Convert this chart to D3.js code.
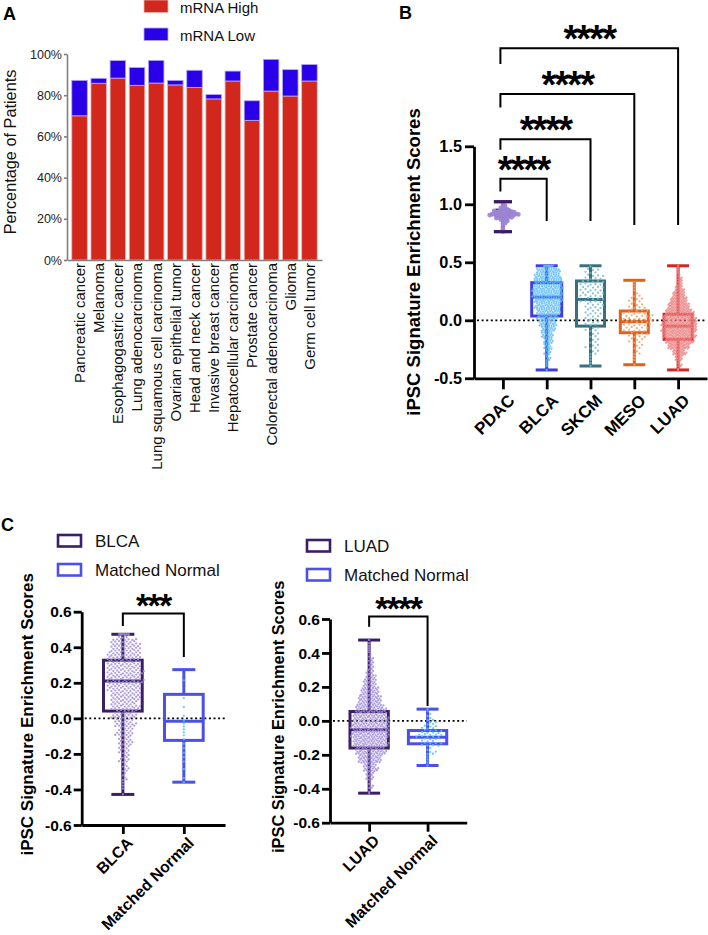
<!DOCTYPE html>
<html>
<head>
<meta charset="utf-8">
<script src="https://cdn.jsdelivr.net/npm/d3@7"></script>
<style>
  body { margin: 0; background: #fff; }
  svg { display: block; }
  svg text { font-family: "Liberation Sans", Arial, Helvetica, sans-serif; }
</style>
</head>
<body>
<svg id="fig" width="708" height="935"></svg>
<script>
// ---- panel A data ----
const cancerTypes = ['Pancreatic cancer', 'Melanoma', 'Esophagogastric cancer', 'Lung adenocarcinoma',
  'Lung squamous cell carcinoma', 'Ovarian epithelial tumor', 'Head and neck cancer',
  'Invasive breast cancer', 'Hepatocellular carcinoma', 'Prostate cancer',
  'Colorectal adenocarcinoma', 'Glioma', 'Germ cell tumor'];
const mrnaHigh = [70, 85.8, 88.3, 84.8, 85.9, 85, 83.8, 78.2, 86.9, 67.8, 82, 79.6, 86.9];
const mrnaLow = [17.2, 2.4, 8.5, 8.6, 11, 2.2, 8.3, 2.1, 4.8, 9.5, 15.4, 12.8, 8];
const pctTicks = [0, 20, 40, 60, 80, 100];

// ---- panel B data ----
const groupsB = ['PDAC', 'BLCA', 'SKCM', 'MESO', 'LUAD'];
// [min, q1, median, q3, max]
const statsB = [
  [0.764, 0.90, 0.93, 0.95, 1.022],
  [-0.428, 0.037, 0.20, 0.324, 0.47],
  [-0.394, -0.05, 0.18, 0.339, 0.47],
  [-0.383, -0.107, -0.012, 0.08, 0.345],
  [-0.428, -0.164, -0.05, 0.052, 0.47]
];
// dot counts per score bin (bin start, bin width)
const binStartB = [0.75, -0.45, -0.40, -0.40, -0.45];
const binWidthB = [0.025, 0.05, 0.05, 0.05, 0.05];
const countsPDAC = [1, 1, 1, 2, 4, 8, 14, 10, 4, 2, 1];
const countsBLCA = [1, 3, 5, 7, 10, 12, 15, 18, 22, 26, 30, 32, 36, 38, 38, 36, 34, 30, 12];
const countsSKCM = [2, 2, 4, 5, 4, 4, 5, 6, 6, 7, 8, 9, 10, 10, 10, 8, 6, 1];
const countsMESO = [1, 2, 3, 4, 6, 8, 10, 12, 12, 9, 7, 6, 3, 2, 2];
const countsLUAD = [2, 6, 12, 22, 36, 46, 54, 58, 58, 54, 46, 36, 28, 20, 14, 8, 6, 4, 2];
const yTicksB = [-0.5, 0, 0.5, 1, 1.5];
const sigB = ['****', '****', '****', '****'];
const bracketTopB = [1.22, 1.56, 1.95, 2.345];
const bracketLeftEndB = [1.11, 1.47, 1.835, 2.21];
const bracketRightEndB = [0.856, 0.856, 0.822, 0.822];

// ---- panel C data ----
const groupsC1 = ['BLCA', 'Matched Normal'];
const statsC1 = [[-0.428, 0.041, 0.21, 0.327, 0.473], [-0.359, -0.124, -0.017, 0.135, 0.274]];
const countsC1Normal = [1, 1, 1, 2, 2, 2, 3, 3, 1, 1, 1, 0, 1];
const groupsC2 = ['LUAD', 'Matched Normal'];
const statsC2 = [[-0.426, -0.16, -0.053, 0.055, 0.476], [-0.263, -0.135, -0.096, -0.057, 0.069]];
const countsC2Normal = [1, 3, 6, 14, 18, 10, 5, 2];
const yTicksC = [-0.6, -0.4, -0.2, 0, 0.2, 0.4, 0.6];

const FONT = '"Liberation Sans", Arial, Helvetica, sans-serif';
const svg = d3.select('#fig');

// layout of a beeswarm from binned counts
function swarm(counts, start, width, stats, rows, dx) {
  const pts = [];
  counts.forEach((n, b) => {
    if (!n) return;
    const lo = start + b * width;
    const r = Math.min(rows, n);
    const nCols = Math.ceil(n / r);
    for (let i = 0; i < n; i++) {
      const row = i % r;
      const col = Math.floor(i / r);
      let v = lo + (row + 0.5 + ((col % 3) - 1) * 0.22) / r * width;
      v = Math.max(stats[0], Math.min(stats[4], v));
      const side = col % 2 ? 1 : -1;
      let off = side * Math.ceil(col / 2) * dx;
      if (row % 2) off += dx / 2;
      if (nCols === 1) off = 0;
      pts.push({ v: v, off: off });
    }
  });
  return pts;
}

function drawBox(g, cx, y, s, color, boxW, capW, lw) {
  g.append('line').attr('x1', cx).attr('x2', cx).attr('y1', y(s[0])).attr('y2', y(s[1]))
    .attr('stroke', color).attr('stroke-width', lw);
  g.append('line').attr('x1', cx).attr('x2', cx).attr('y1', y(s[3])).attr('y2', y(s[4]))
    .attr('stroke', color).attr('stroke-width', lw);
  [s[0], s[4]].forEach(v => {
    g.append('line').attr('x1', cx - capW / 2).attr('x2', cx + capW / 2).attr('y1', y(v)).attr('y2', y(v))
      .attr('stroke', color).attr('stroke-width', lw);
  });
  g.append('rect').attr('x', cx - boxW / 2).attr('width', boxW)
    .attr('y', y(s[3])).attr('height', y(s[1]) - y(s[3]))
    .attr('fill', 'none').attr('stroke', color).attr('stroke-width', lw);
  g.append('line').attr('x1', cx - boxW / 2).attr('x2', cx + boxW / 2).attr('y1', y(s[2])).attr('y2', y(s[2]))
    .attr('stroke', color).attr('stroke-width', lw);
}

function drawDots(g, cx, y, pts, color, r, op) {
  g.selectAll(null).data(pts).join('circle')
    .attr('cx', d => cx + d.off)
    .attr('cy', d => y(d.v))
    .attr('r', r)
    .attr('fill', color)
    .attr('opacity', op || 0.85);
}

function txt(sel, size, weight) {
  return sel.attr('font-family', FONT).attr('font-size', size).attr('font-weight', weight || 'normal');
}

function stars(g, x, yLine, label, size) {
  txt(g.append('text'), size, 'bold')
    .attr('x', x).attr('y', yLine + 0.1 * size)
    .attr('text-anchor', 'middle')
    .attr('letter-spacing', -0.05 * size)
    .text(label);
}

function bracket(g, x1, x2, yTop, yLeft, yRight) {
  g.append('path')
    .attr('d', 'M' + x1 + ',' + yLeft + 'V' + yTop + 'H' + x2 + 'V' + yRight)
    .attr('fill', 'none').attr('stroke', '#000').attr('stroke-width', 2);
}

// axis lines from d3, labels drawn as plain text from the same scales
function axisLines(ax, color, width) {
  ax.selectAll('text').remove();
  ax.selectAll('path, line').attr('stroke', color).attr('stroke-width', width);
}

// panel letters
[['A', 3, 20], ['B', 399, 19], ['C', 1, 531]].forEach(d => {
  txt(svg.append('text'), 18, 'bold').attr('x', d[1]).attr('y', d[2]).text(d[0]);
});

// ================= panel A =================
const gA = svg.append('g');
const xA = d3.scaleBand().domain(cancerTypes).range([67, 322]).paddingInner(0.19).paddingOuter(0.25);
const yA = d3.scaleLinear().domain([0, 100]).range([260, 54]);

gA.selectAll('rect.hi').data(cancerTypes).join('rect')
  .attr('class', 'hi')
  .attr('x', d => xA(d))
  .attr('width', xA.bandwidth())
  .attr('y', (d, i) => yA(mrnaHigh[i]))
  .attr('height', (d, i) => yA(0) - yA(mrnaHigh[i]))
  .attr('fill', '#d1271c')
  .attr('stroke', '#f0b4ae').attr('stroke-width', 0.8);

gA.selectAll('rect.lo').data(cancerTypes).join('rect')
  .attr('class', 'lo')
  .attr('x', d => xA(d))
  .attr('width', xA.bandwidth())
  .attr('y', (d, i) => yA(mrnaHigh[i] + mrnaLow[i]))
  .attr('height', (d, i) => yA(mrnaHigh[i]) - yA(mrnaHigh[i] + mrnaLow[i]))
  .attr('fill', '#2a00e8')
  .attr('stroke', '#b2a8f6').attr('stroke-width', 0.8);

const axA = gA.append('g').attr('transform', 'translate(67,0)')
  .call(d3.axisLeft(yA).tickValues(pctTicks).tickSize(3).tickSizeOuter(0));
axisLines(axA, '#808080', 1.6);
pctTicks.forEach(t => {
  txt(gA.append('text'), 12.5).attr('x', 62).attr('y', yA(t)).attr('dy', '0.36em')
    .attr('text-anchor', 'end').attr('fill', '#222').text(t + '%');
});

const axAx = gA.append('g').attr('transform', 'translate(0,260)')
  .call(d3.axisBottom(xA).tickSize(0).tickSizeOuter(0));
axisLines(axAx, '#808080', 1.6);
cancerTypes.forEach(c => {
  txt(gA.append('text'), 15)
    .attr('transform', 'translate(' + (xA(c) + xA.bandwidth() / 2) + ',263) rotate(-90)')
    .attr('text-anchor', 'end').attr('dy', '0.36em').attr('fill', '#111').text(c);
});

txt(gA.append('text'), 16.3)
  .attr('transform', 'translate(15.5,152) rotate(-90)')
  .attr('text-anchor', 'middle')
  .attr('fill', '#111')
  .text('Percentage of Patients');

// legend A
const legA = [['mRNA High', '#d1271c', '#f0b4ae', 0], ['mRNA Low', '#2a00e8', '#b2a8f6', 28]];
legA.forEach(d => {
  gA.append('rect').attr('x', 144).attr('y', d[3]).attr('width', 24).attr('height', 12.5)
    .attr('fill', d[1]).attr('stroke', d[2]).attr('stroke-width', 0.8);
  txt(gA.append('text'), 15).attr('x', 180).attr('y', d[3] + 12.5).attr('fill', '#111').text(d[0]);
});

// ================= panel B =================
const gB = svg.append('g');
const xB = d3.scalePoint().domain(groupsB).range([474, 707]).padding(0.66);
const yB = d3.scaleLinear().domain([-0.5, 1.5]).range([378.3, 146.3]);

gB.append('line').attr('x1', 477).attr('x2', 707).attr('y1', yB(0)).attr('y2', yB(0))
  .attr('stroke', '#000').attr('stroke-width', 1.8).attr('stroke-dasharray', '2,2.6');

const countsB = [countsPDAC, countsBLCA, countsSKCM, countsMESO, countsLUAD];
const boxColB = ['#3a1d63', '#3d3de6', '#3a6f7f', '#e0611d', '#d42424'];
const dotColB = ['#9c84d4', '#5fbdf5', '#78bccb', '#f2a06c', '#ec8686'];
const rowsB = [1, 3, 2, 2, 4];
const dxB = [2.2, 2.4, 5, 5.2, 2.4];
const dotRB = [2.4, 1.15, 1.15, 1.15, 1.15];
const boxWB = [12, 30, 28, 28, 28];
const capWB = [18, 22, 22, 22, 22];

groupsB.forEach((grp, i) => {
  const cx = xB(grp);
  const pts = swarm(countsB[i], binStartB[i], binWidthB[i], statsB[i], rowsB[i], dxB[i]);
  drawBox(gB, cx, yB, statsB[i], boxColB[i], boxWB[i], capWB[i], 3);
  drawDots(gB, cx, yB, pts, dotColB[i], dotRB[i], i === 0 ? 0.92 : 0.85);
  if (i === 0) {
    [statsB[0][0], statsB[0][4]].forEach(v => {
      gB.append('line').attr('x1', cx - 9).attr('x2', cx + 9).attr('y1', yB(v)).attr('y2', yB(v))
        .attr('stroke', boxColB[0]).attr('stroke-width', 3);
    });
  }
});

const axB = gB.append('g').attr('transform', 'translate(474,0)')
  .call(d3.axisLeft(yB).tickValues(yTicksB).tickSize(9).tickSizeOuter(0));
axisLines(axB, '#000', 2.8);
yTicksB.forEach(t => {
  txt(gB.append('text'), 16.3, 'bold').attr('x', 462).attr('y', yB(t)).attr('dy', '0.36em')
    .attr('text-anchor', 'end').text(t.toFixed(1));
});

const axBx = gB.append('g').attr('transform', 'translate(0,378.3)')
  .call(d3.axisBottom(xB).tickSize(11).tickSizeOuter(0));
axisLines(axBx, '#000', 2.8);
groupsB.forEach(grp => {
  txt(gB.append('text'), 17, 'bold')
    .attr('transform', 'translate(' + (xB(grp) + 4) + ',393) rotate(-45)')
    .attr('text-anchor', 'end').attr('dy', '0.72em').text(grp);
});

txt(gB.append('text'), 18.5, 'bold')
  .attr('transform', 'translate(420,262) rotate(-90)')
  .attr('text-anchor', 'middle')
  .text('iPSC Signature Enrichment Scores');

groupsB.slice(1).forEach((grp, i) => {
  const x1 = xB('PDAC') - 2.5, x2 = xB(grp);
  bracket(gB, x1, x2, yB(bracketTopB[i]), yB(bracketLeftEndB[i]), yB(bracketRightEndB[i]));
  stars(gB, (x1 + x2) / 2, yB(bracketTopB[i]), sigB[i], 38);
});

// ================= panel C =================
function panelC(groups, stats, countsNormal, binStartNormal, xRange, pad, yRange, legendY, legendX, titleX, sig, br, opts) {
  const g = svg.append('g');
  const x = d3.scalePoint().domain(groups).range(xRange).padding(pad);
  const y = d3.scaleLinear().domain([-0.6, 0.6]).range(yRange);

  g.append('line').attr('x1', xRange[0] + 3).attr('x2', xRange[1]).attr('y1', y(0)).attr('y2', y(0))
    .attr('stroke', '#000').attr('stroke-width', 1.8).attr('stroke-dasharray', '2,2.6');

  const tumorPts = swarm(opts.tumorCounts, opts.tumorStart, 0.05, stats[0], 4, opts.tumorDx);
  drawBox(g, x(groups[0]), y, stats[0], '#3b1f66', opts.boxW, opts.capW, 3);
  drawDots(g, x(groups[0]), y, tumorPts, '#a28ed8', 1.15);

  const normPts = swarm(countsNormal, binStartNormal, 0.05, stats[1], 4, opts.normDx);
  drawBox(g, x(groups[1]), y, stats[1], '#4b50e8', opts.boxW, opts.capW, 3);
  drawDots(g, x(groups[1]), y, normPts, '#55c2f7', 1.15);

  const ax = g.append('g').attr('transform', 'translate(' + xRange[0] + ',0)')
    .call(d3.axisLeft(y).tickValues(yTicksC).tickSize(8).tickSizeOuter(0));
  axisLines(ax, '#000', 2.8);
  yTicksC.forEach(t => {
    txt(g.append('text'), 15.5, 'bold').attr('x', xRange[0] - 10).attr('y', y(t)).attr('dy', '0.36em')
      .attr('text-anchor', 'end').text(t.toFixed(1));
  });

  const axx = g.append('g').attr('transform', 'translate(0,' + yRange[0] + ')')
    .call(d3.axisBottom(x).tickSize(9).tickSizeOuter(0));
  axisLines(axx, '#000', 2.8);
  groups.forEach(grp => {
    txt(g.append('text'), 15.8, 'bold')
      .attr('transform', 'translate(' + (x(grp) + 3) + ',' + (yRange[0] + 11) + ') rotate(-45)')
      .attr('text-anchor', 'end').attr('dy', '0.72em').text(grp);
  });

  txt(g.append('text'), opts.titleSize, 'bold')
    .attr('transform', 'translate(' + titleX + ',' + ((yRange[0] + yRange[1]) / 2 - 4) + ') rotate(-90)')
    .attr('text-anchor', 'middle')
    .text('iPSC Signature Enrichment Scores');

  const bx1 = x(groups[0]), bx2 = x(groups[1]);
  bracket(g, bx1, bx2, y(br[0]), y(br[1]), y(br[2]));
  stars(g, (bx1 + bx2) / 2, y(br[0]), sig, 34);

  // legend
  [[groups[0], '#3b1f66'], ['Matched Normal', '#4b50e8']].forEach((d, i) => {
    const ly = legendY + i * 29;
    g.append('rect').attr('x', legendX).attr('y', ly).attr('width', 23).attr('height', 11.5)
      .attr('fill', 'none').attr('stroke', d[1]).attr('stroke-width', 2.6);
    txt(g.append('text'), 17).attr('x', legendX + 37).attr('y', ly + 11.5).attr('fill', '#111').text(d[0]);
  });
}

panelC(groupsC1, statsC1, countsC1Normal, -0.40, [81.7, 225], 0.675, [825, 611.7], 535, 58, 33, '***',
  [0.59, 0.52, 0.345],
  { tumorCounts: countsBLCA, tumorStart: -0.45, tumorDx: 3.8, normDx: 3, boxW: 38.7, capW: 23, titleSize: 17 });

panelC(groupsC2, statsC2, countsC2Normal, -0.30, [330, 466.7], 0.67, [822.7, 619], 540, 307, 283.5, '****',
  [0.614, 0.555, 0.088],
  { tumorCounts: countsLUAD, tumorStart: -0.45, tumorDx: 2.6, normDx: 5.5, boxW: 38.3, capW: 22, titleSize: 16.4 });
</script>
</body>
</html>
